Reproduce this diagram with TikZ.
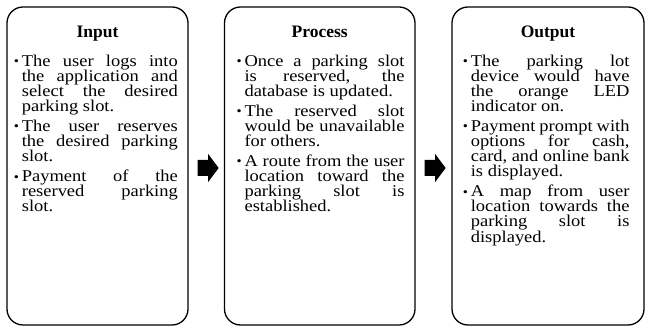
\documentclass[tikz,border=0pt]{standalone}
\usepackage{fontspec}
\setmainfont{Liberation Serif}
\newfontfamily\bodyfont[FakeStretch=1.12]{Liberation Serif}
\usetikzlibrary{calc}
\newcommand{\bodysetup}{\bodyfont\fontsize{16.5}{15.1}\selectfont\lineskiplimit=-30pt\parskip=4.8pt\parindent=0pt\tolerance=10000\hbadness=10000\hfuzz=4pt\leftskip=8.3pt\rightskip=0pt\parfillskip=0pt plus 1fil\relax}
\newcommand{\bitem}[1]{\hspace*{-8.3pt}\makebox[8.3pt][l]{\hspace*{0.3pt}\raisebox{0.6pt}{\fontsize{13}{13}\selectfont\textbullet}}#1}
\begin{document}
\begin{tikzpicture}[x=1pt,y=1pt,
  box/.style={draw, line width=1.3pt, rounded corners=16pt, minimum height=318pt, inner sep=0pt},
  ttl/.style={anchor=base, inner sep=0pt, font=\fontsize{17.5}{20}\selectfont\bfseries},
  body/.style={anchor=base west, inner sep=0pt, align=justify},
  blockarrow/.style={fill=black}]
\useasboundingbox (0,0) rectangle (645,328);
\node[box, minimum width=181pt] (in) at (97.5,162) {};
\node[box, minimum width=190.5pt] (pr) at (319.75,162) {};
\node[box, minimum width=192pt] (out) at (548,162) {};
\node[ttl] (tin) at ($(in.north)+(0,-30.7)$) {Input};
\node[ttl] (tpr) at ($(pr.north)+(0,-30.7)$) {Process};
\node[ttl] (tout) at ($(out.north)+(0,-30.7)$) {Output};
\node[body, text width=164.3pt] (lin) at ($(in.north west)+(7,-60)$) {\bodysetup%
\bitem{The user logs into\linebreak the application and\linebreak select the desired\linebreak parking slot.}\par
\bitem{The user reserves\linebreak the desired parking\linebreak slot.}\par
\bitem{Payment of the\linebreak reserved parking\linebreak slot.}\par};
\node[body, text width=168.3pt] (lpr) at ($(pr.north west)+(12.2,-60)$) {\bodysetup%
\bitem{Once a parking slot\linebreak is reserved, the\linebreak database is updated.}\par
\bitem{The reserved slot\linebreak would be unavailable\linebreak for others.}\par
\bitem{A route from the user\linebreak location toward the\linebreak parking slot is\linebreak established.}\par};
\node[body, text width=167pt] (lout) at ($(out.north west)+(11,-60)$) {\bodysetup%
\bitem{The parking lot\linebreak device would have\linebreak the orange LED\linebreak indicator on.}\par
\bitem{Payment prompt with\linebreak options for cash,\linebreak card, and online bank\linebreak is displayed.}\par
\bitem{A map from user\linebreak location towards the\linebreak parking slot is\linebreak displayed.}\par};
\foreach \a/\n in {in/a1, pr/a2}{
  \coordinate (\n) at ($(\a.east)+(9,-2)$);
  \fill[blockarrow] ($(\n)+(0,8)$) -- ++(10.5,0) -- ++(0,6) -- ++(10.5,-14) -- ++(-10.5,-14) -- ++(0,6) -- ++(-10.5,0) -- cycle;
}
\end{tikzpicture}
\end{document}
